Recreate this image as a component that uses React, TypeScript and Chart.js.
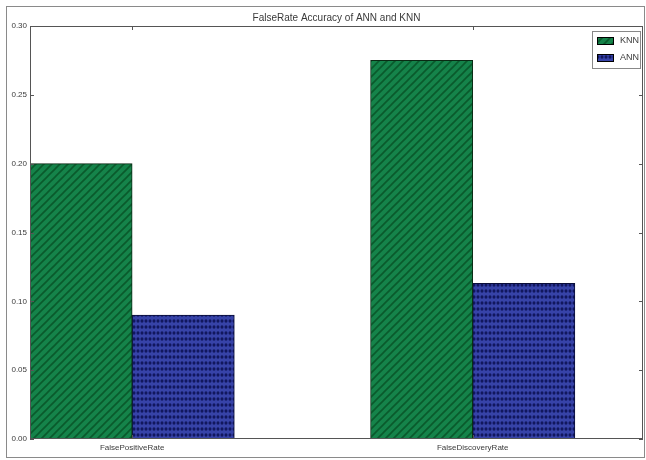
import React, { useEffect, useRef } from "react";
import { Chart, registerables } from "chart.js";
Chart.register(...registerables);

const categories = ["FalsePositiveRate", "FalseDiscoveryRate"];
const groupPositions = [0, 1];
const barWidth = 0.3;
const xMax = 1.8;
const knnValues = [0.2, 0.275];
const annValues = [0.09, 0.113];
const yTicks = [0, 0.05, 0.1, 0.15, 0.2, 0.25, 0.3];
const seriesNames = ["KNN", "ANN"];
const titleText = "FalseRate Accuracy of ANN and KNN";

const FONT = '"Liberation Sans Narrow", "Liberation Sans", Arial, sans-serif';
const TEXT = "#3a3a3a";

function makeGreenHatch(): CanvasPattern | string {
  const c = document.createElement("canvas");
  c.width = 8;
  c.height = 8;
  const g = c.getContext("2d");
  if (!g) return "#168a45";
  g.fillStyle = "#15834a";
  g.fillRect(0, 0, 8, 8);
  g.strokeStyle = "#0a5a2c";
  g.lineWidth = 1.6;
  g.beginPath();
  g.moveTo(-2, 10); g.lineTo(10, -2);
  g.moveTo(-6, 6); g.lineTo(6, -6);
  g.moveTo(2, 14); g.lineTo(14, 2);
  g.stroke();
  const p = g.createPattern(c, "repeat");
  return p || "#168a45";
}

function makeBlueDots(): CanvasPattern | string {
  const c = document.createElement("canvas");
  c.width = 4;
  c.height = 6;
  const g = c.getContext("2d");
  if (!g) return "#2e3a9a";
  g.fillStyle = "#3743a8";
  g.fillRect(0, 0, 4, 6);
  g.fillStyle = "#11175e";
  g.beginPath();
  g.ellipse(2, 3, 1.5, 1.8, 0, 0, Math.PI * 2);
  g.fill();
  const p = g.createPattern(c, "repeat");
  return p || "#2e3a9a";
}

export default function App() {
  const ref = useRef<HTMLCanvasElement | null>(null);

  useEffect(() => {
    if (!ref.current) return;
    const green = makeGreenHatch();
    const blue = makeBlueDots();
    const tickPositions = groupPositions.map((g) => g + barWidth);

    const decor = {
      id: "decor",
      afterDraw(chart: any) {
        const ctx = chart.ctx as CanvasRenderingContext2D;
        const { left, right, top, bottom } = chart.chartArea;
        const xs = chart.scales.x;
        const ys = chart.scales.y;
        ctx.save();
        // outer figure frame
        ctx.strokeStyle = "#8a8a8a";
        ctx.lineWidth = 1;
        ctx.strokeRect(6.5, 6.5, 638, 451);
        // axes frame
        ctx.strokeStyle = "#555";
        ctx.strokeRect(Math.round(left) + 0.5, Math.round(top) + 0.5, Math.round(right - left) - 1, Math.round(bottom - top) - 1);
        // inner ticks
        ctx.beginPath();
        yTicks.forEach((v) => {
          const y = Math.round(ys.getPixelForValue(v)) + 0.5;
          ctx.moveTo(left, y); ctx.lineTo(left + 4, y);
          ctx.moveTo(right, y); ctx.lineTo(right - 4, y);
        });
        tickPositions.forEach((v) => {
          const x = Math.round(xs.getPixelForValue(v)) + 0.5;
          ctx.moveTo(x, bottom); ctx.lineTo(x, bottom - 4);
          ctx.moveTo(x, top); ctx.lineTo(x, top + 4);
        });
        ctx.stroke();
        // title
        ctx.fillStyle = TEXT;
        ctx.font = `10px ${FONT}`;
        ctx.textAlign = "center";
        ctx.textBaseline = "middle";
        ctx.fillText(titleText, (left + right) / 2, 18);
        // legend
        const lx = 592, ly = 31, lw = right - 3 - lx, lh = 37;
        ctx.fillStyle = "#fff";
        ctx.fillRect(lx, ly, lw, lh);
        ctx.strokeStyle = "#888";
        ctx.strokeRect(lx + 0.5, ly + 0.5, lw, lh);
        const fills = [green, blue];
        const rows = [40, 57];
        seriesNames.forEach((name, i) => {
          ctx.fillStyle = fills[i] as any;
          ctx.fillRect(597, rows[i] - 3, 16, 7);
          ctx.strokeStyle = "#000";
          ctx.strokeRect(597.5, rows[i] - 2.5, 16, 7);
          ctx.fillStyle = TEXT;
          ctx.font = `9px ${FONT}`;
          ctx.textAlign = "left";
          ctx.textBaseline = "middle";
          ctx.fillText(name, 620, rows[i] + 0.5);
        });
        ctx.restore();
      },
    };

    const chart = new Chart(ref.current, {
      type: "bar",
      data: {
        datasets: [
          {
            label: seriesNames[0],
            data: groupPositions.map((g, i) => ({ x: g + barWidth / 2, y: knnValues[i] })),
            backgroundColor: green as any,
            borderColor: "#0a2a14",
            borderWidth: 1,
            grouped: false,
            barPercentage: 1,
            categoryPercentage: 1,
          } as any,
          {
            label: seriesNames[1],
            data: groupPositions.map((g, i) => ({ x: g + barWidth * 1.5, y: annValues[i] })),
            backgroundColor: blue as any,
            borderColor: "#0a0e3a",
            borderWidth: 1,
            grouped: false,
            barPercentage: 1,
            categoryPercentage: 1,
          } as any,
        ],
      },
      options: {
        animation: false,
        responsive: false,
        layout: { padding: { left: 0, right: 3, top: 26, bottom: 0 } },
        plugins: {
          legend: { display: false },
          title: { display: false },
          tooltip: { enabled: false },
        },
        scales: {
          x: {
            type: "linear",
            offset: false,
            min: 0,
            max: xMax,
            grid: { display: false, drawTicks: false, offset: false },
            border: { display: false },
            afterBuildTicks: (s: any) => {
              s.ticks = tickPositions.map((v) => ({ value: v }));
            },
            afterFit: (s: any) => {
              s.height = 21;
            },
            ticks: {
              autoSkip: false,
              maxRotation: 0,
              padding: 4,
              color: TEXT,
              font: { family: FONT, size: 8 },
              callback: (_v: any, i: number) => categories[i],
            },
          },
          y: {
            min: 0,
            max: 0.3,
            grid: { display: false, drawTicks: false },
            border: { display: false },
            afterBuildTicks: (s: any) => {
              s.ticks = yTicks.map((v) => ({ value: v }));
            },
            afterFit: (s: any) => {
              s.width = 30;
            },
            ticks: {
              padding: 3,
              color: TEXT,
              font: { family: FONT, size: 8 },
              callback: (v: any) => Number(v).toFixed(2),
            },
          },
        },
      } as any,
      plugins: [decor],
    });
    return () => chart.destroy();
  }, []);

  return (
    <div style={{ position: "fixed", left: 0, top: 0, width: 646, height: 460, background: "#fff" }}>
      <canvas ref={ref} width={646} height={460} style={{ display: "block", width: 646, height: 460 }} />
    </div>
  );
}
